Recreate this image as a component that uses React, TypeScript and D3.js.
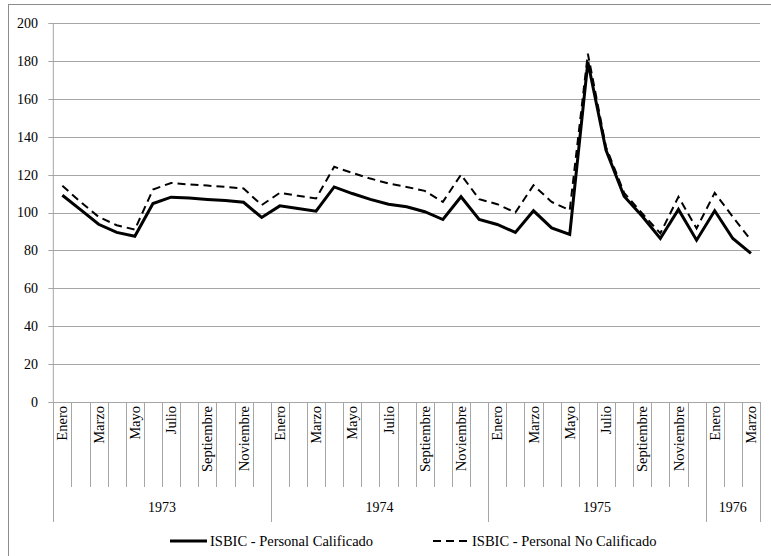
import * as React from "react";
import * as d3 from "d3";

// Jan 1973 .. Mar 1976, monthly
const years = ["1973", "1974", "1975", "1976"];
const monthsPerYear = [12, 12, 12, 3];
const monthNames = ["Enero", "Febrero", "Marzo", "Abril", "Mayo", "Junio", "Julio", "Agosto",
  "Septiembre", "Octubre", "Noviembre", "Diciembre"];

const calificado = [
  109.1, 101.5, 93.8, 89.5, 87.5, 104.7, 108.1, 107.6, 106.9, 106.3, 105.4, 97.4,
  103.5, 102.1, 100.7, 113.5, 110.0, 106.9, 104.4, 103.0, 100.4, 96.3, 108.3, 96.3,
  93.7, 89.5, 100.9, 91.9, 88.4, 179.4, 132.9, 108.6, 98.0, 86.3, 101.6, 85.4,
  100.9, 86.3, 78.4
];
const noCalificado = [
  114.1, 105.6, 97.7, 93.3, 91.0, 112.1, 115.6, 114.8, 114.2, 113.5, 112.7, 103.9,
  110.4, 108.8, 107.4, 124.1, 120.9, 117.9, 115.3, 113.5, 111.4, 105.6, 120.0, 107.0,
  104.4, 100.0, 114.4, 105.6, 101.2, 183.8, 134.6, 110.4, 99.5, 89.0, 108.3, 91.6,
  110.4, 97.7, 85.4
];
const yTicks = [0, 20, 40, 60, 80, 100, 120, 140, 160, 180, 200];

const FONT = "'Times New Roman', Times, 'Liberation Serif', Tinos, 'DejaVu Serif', 'Noto Serif', serif";
const GRID = "#a6a6a6";

export default function App() {
  const left = 53.3, right = 760, top = 23, bottom = 402;

  const cats: { key: string; month: number; year: string }[] = [];
  years.forEach((y, yi) => {
    for (let m = 0; m < monthsPerYear[yi]; m++) cats.push({ key: `${y}-${m}`, month: m, year: y });
  });

  const x = d3.scaleBand<string>().domain(cats.map(c => c.key)).range([left, right]).padding(0);
  const y = d3.scaleLinear().domain([0, 200]).range([bottom, top]);
  const cx = (i: number) => (x(cats[i].key) as number) + x.bandwidth() / 2;

  const line = d3.line<number>().x((_, i) => cx(i)).y(d => y(d));

  // year boundaries
  const yearEdges: { year: string; x0: number; x1: number }[] = [];
  let start = 0;
  years.forEach((yr, yi) => {
    const x0 = x(cats[start].key) as number;
    const last = cats[start + monthsPerYear[yi] - 1];
    const x1 = (x(last.key) as number) + x.bandwidth();
    yearEdges.push({ year: yr, x0, x1 });
    start += monthsPerYear[yi];
  });

  const txt = { fontFamily: FONT, fill: "#000" };

  return (
    <svg width={771} height={556} style={{ position: "absolute", left: 0, top: 0, background: "#fff", fontFamily: FONT }}>
      <rect x={8.5} y={4.5} width={780} height={580} fill="#fff" stroke="#8c8c8c" strokeWidth={1} />

      {/* gridlines + y ticks */}
      {yTicks.map(t => (
        <g key={t}>
          <line x1={left - 5} x2={right} y1={Math.round(y(t)) + 0.5} y2={Math.round(y(t)) + 0.5}
            stroke={GRID} strokeWidth={1} />
          <text x={38} y={y(t)} dy="0.35em" textAnchor="end" fontSize={14} style={txt}>{t}</text>
        </g>
      ))}
      <line x1={left} x2={left} y1={top} y2={bottom} stroke={GRID} strokeWidth={1} />

      {/* month ticks */}
      {cats.map((c, i) => {
        const bx = Math.round((x(c.key) as number)) + 0.5;
        return <line key={"t" + i} x1={bx} x2={bx} y1={bottom} y2={487} stroke={GRID} strokeWidth={1} />;
      })}
      {/* year dividers */}
      {yearEdges.map((e, i) => (
        <g key={"y" + i}>
          <line x1={Math.round(e.x0) + 0.5} x2={Math.round(e.x0) + 0.5} y1={bottom} y2={522} stroke={GRID} />
          <line x1={Math.round(e.x1) + 0.5} x2={Math.round(e.x1) + 0.5} y1={bottom} y2={522} stroke={GRID} />
          <text x={(e.x0 + e.x1) / 2} y={507} dy="0.35em" textAnchor="middle" fontSize={14} style={txt}>{e.year}</text>
        </g>
      ))}

      {/* month labels */}
      {cats.map((c, i) => c.month % 2 === 0 ? (
        <text key={"m" + i} transform={`translate(${cx(i)},${406}) rotate(-90)`} dy="0.35em"
          textAnchor="end" fontSize={14.5} style={txt}>{monthNames[c.month]}</text>
      ) : null)}

      {/* series */}
      <path d={line(noCalificado) as string} fill="none" stroke="#000" strokeWidth={2} strokeDasharray="8,5" />
      <path d={line(calificado) as string} fill="none" stroke="#000" strokeWidth={3} strokeLinejoin="miter" />

      {/* legend */}
      <line x1={170} x2={207} y1={541} y2={541} stroke="#000" strokeWidth={3} />
      <text x={210} y={541} dy="0.35em" fontSize={14.5} style={txt}>ISBIC - Personal Calificado</text>
      <line x1={433} x2={470} y1={541} y2={541} stroke="#000" strokeWidth={2} strokeDasharray="8,5" />
      <text x={472} y={541} dy="0.35em" fontSize={14.5} style={txt}>ISBIC - Personal No Calificado</text>
    </svg>
  );
}
